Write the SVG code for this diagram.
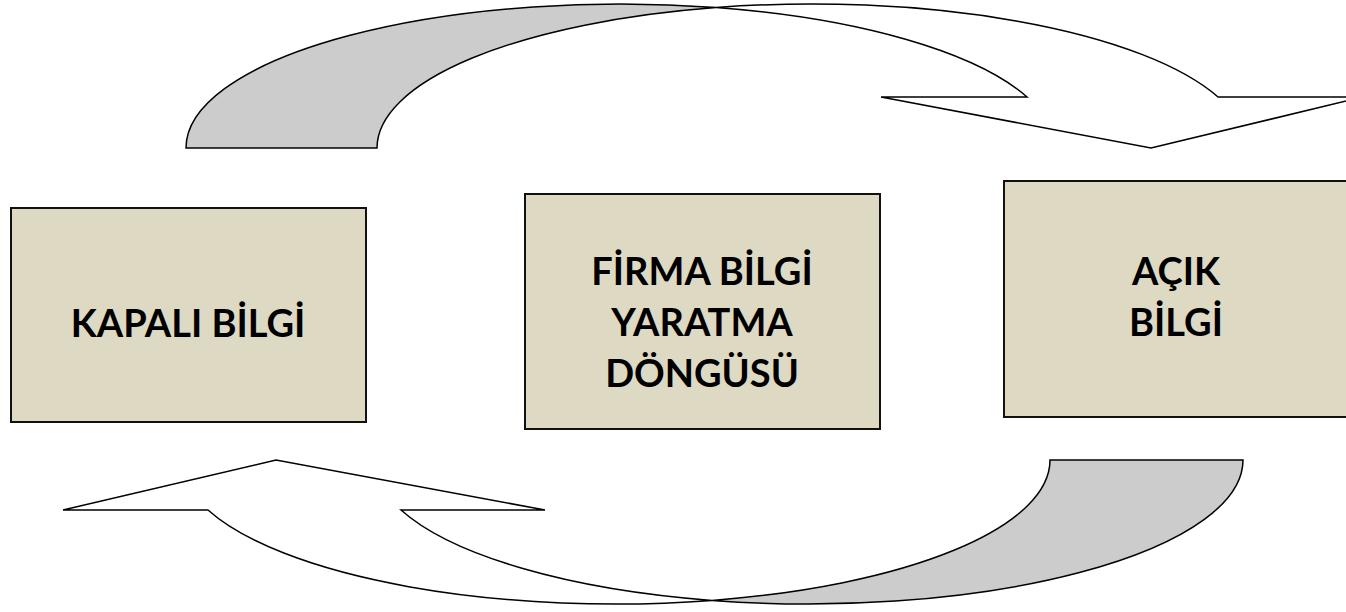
<svg xmlns="http://www.w3.org/2000/svg" width="1346" height="612" viewBox="0 0 1346 612">
  <style>
    .box { fill: #ddd9c3; stroke: #111111; stroke-width: 2; }
    .lbl { font-family: Lato, "Open Sans", "Liberation Sans", sans-serif; font-weight: 700; font-size: 38px; fill: #000000; text-anchor: middle; }
    .back { fill: #cccccc; stroke: #000000; stroke-width: 1.5; stroke-linejoin: miter; }
    .front { fill: #ffffff; stroke: #000000; stroke-width: 1.5; stroke-linejoin: miter; }
  </style>
  <rect x="0" y="0" width="1346" height="612" fill="#ffffff"/>
  <g id="connectors">
    <g id="arrow-top">
      <path class="back" d="M186,148 A434.6,144 0 0 1 716.1,7.52 A434.6,144 0 0 0 377,148 Z"/>
      <path class="front" d="M716.1,7.52 A434.6,144 0 0 1 1218.05,97 L1363,97 L1151,148 L881,97 L1027.05,97 A434.6,144 0 0 0 716.1,7.52 Z"/>
    </g>
    <g id="arrow-bottom">
      <path class="back" d="M1050,460 L1243,460 A434.5,144 0 0 1 712,600.4 A434.5,144 0 0 0 1050,460 Z"/>
      <path class="front" d="M712,600.4 A434.5,144 0 0 1 208,510 L63,510 L276,460 L545,510 L401,510 A434.5,144 0 0 0 712,600.4 Z"/>
    </g>
  </g>
  <g id="node-kapali">
    <rect class="box" x="11" y="208" width="355" height="214"/>
    <text class="lbl" x="188" y="337">KAPALI BİLGİ</text>
  </g>
  <g id="node-firma">
    <rect class="box" x="525" y="194" width="355" height="235"/>
    <text class="lbl" x="702" y="285">FİRMA BİLGİ</text>
    <text class="lbl" x="702" y="336">YARATMA</text>
    <text class="lbl" x="702" y="387">DÖNGÜSÜ</text>
  </g>
  <g id="node-acik">
    <rect class="box" x="1004" y="181" width="360" height="236"/>
    <text class="lbl" x="1176" y="285">AÇIK</text>
    <text class="lbl" x="1176" y="336">BİLGİ</text>
  </g>
</svg>
